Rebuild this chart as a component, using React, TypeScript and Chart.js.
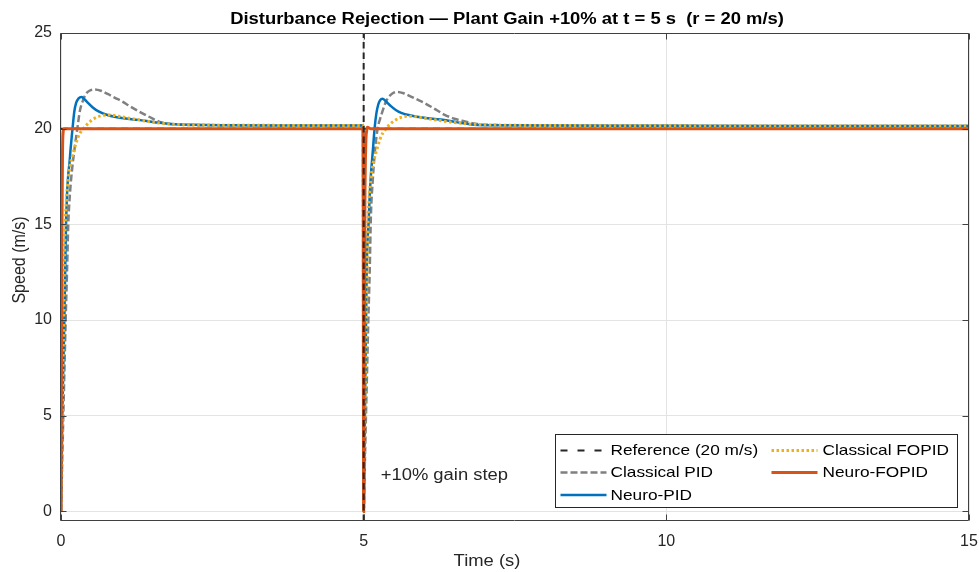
import React, { useEffect, useRef } from "react";
import { Chart, registerables } from "chart.js";
Chart.register(...registerables);

// ---------- data ----------
const xTickValues = [0, 5, 10, 15];
const yTickValues = [0, 5, 10, 15, 20, 25];

const titleText = "Disturbance Rejection \u2014 Plant Gain +10% at t = 5 s  (r = 20 m/s)";
const xLabel = "Time (s)";
const yLabel = "Speed (m/s)";
const stepNote = "+10% gain step";

const refTime = [0, 15];
const refSpeed = [20, 20];

const stepTime = [5, 5];
const stepSpeed = [-0.5, 25];

const pidTime = [
  0, 0.02, 0.038, 0.058, 0.077, 0.1, 0.12, 0.15, 0.187, 0.23, 0.27, 0.31, 0.36, 0.41, 0.47, 0.56, 0.66, 0.78, 0.9, 1.0,
  1.15, 1.33, 1.5, 1.66, 1.85, 2.0, 2.4, 3.0, 4.0, 4.99,
  5.0, 5.02, 5.038, 5.058, 5.077, 5.1, 5.12, 5.15, 5.185, 5.23, 5.27, 5.31, 5.36, 5.4, 5.48, 5.56, 5.66, 5.78, 5.9, 6.0,
  6.15, 6.33, 6.5, 6.66, 6.85, 7.0, 7.5, 8.5, 10, 12, 15,
];
const pidSpeed = [
  0, 2.6, 5, 7.6, 10, 12.6, 15, 16.7, 18, 19.1, 20, 20.9, 21.45, 21.8, 21.98, 22.05, 21.98, 21.8, 21.6, 21.44,
  21.15, 20.83, 20.55, 20.32, 20.22, 20.2, 20.18, 20.17, 20.17, 20.17,
  0, 2.6, 5, 7.6, 10, 12.6, 15.5, 17.3, 18.8, 20.0, 20.5, 20.9, 21.35, 21.6, 21.85, 21.92, 21.85, 21.68, 21.5, 21.35,
  21.08, 20.74, 20.52, 20.39, 20.26, 20.21, 20.18, 20.16, 20.15, 20.14, 20.14,
];

const npidTime = [
  0, 0.022, 0.04, 0.055, 0.07, 0.083, 0.1, 0.12, 0.14, 0.16, 0.19, 0.22, 0.25, 0.29, 0.34, 0.4, 0.45, 0.52, 0.62, 0.78,
  1.0, 1.28, 1.55, 1.83, 2.2, 2.8, 3.5, 4.99,
  5.0, 5.02, 5.04, 5.05, 5.065, 5.08, 5.1, 5.12, 5.14, 5.16, 5.18, 5.21, 5.24, 5.27, 5.31, 5.37, 5.45, 5.53, 5.62, 5.78,
  6.0, 6.27, 6.55, 6.82, 7.2, 8.0, 9.5, 12, 15,
];
const npidSpeed = [
  0, 5, 7.8, 10, 12.7, 15, 16.6, 17.6, 18.2, 19.0, 20.0, 20.9, 21.35, 21.58, 21.65, 21.5, 21.33, 21.12, 20.9, 20.7,
  20.56, 20.46, 20.34, 20.24, 20.2, 20.18, 20.17, 20.17,
  0, 5, 10, 12.6, 14.2, 15, 16.5, 17.6, 18.4, 19.2, 20.0, 20.8, 21.25, 21.48, 21.57, 21.42, 21.18, 20.98, 20.83, 20.69,
  20.57, 20.48, 20.33, 20.21, 20.18, 20.16, 20.15, 20.14, 20.14,
];

const fopidTime = [
  0, 0.02, 0.045, 0.066, 0.09, 0.12, 0.15, 0.19, 0.23, 0.27, 0.31, 0.37, 0.44, 0.51, 0.58, 0.67, 0.76, 0.85, 0.95, 1.1,
  1.27, 1.5, 1.8, 2.4, 3.0, 4.0, 4.99,
  5.0, 5.02, 5.045, 5.066, 5.09, 5.12, 5.15, 5.19, 5.23, 5.27, 5.32, 5.37, 5.44, 5.51, 5.6, 5.73, 5.85, 5.95, 6.1, 6.27,
  6.5, 6.8, 7.4, 8.5, 10, 12, 15,
];
const fopidSpeed = [
  0, 5, 10, 14.5, 16.3, 17.4, 18.1, 18.6, 19.05, 19.45, 19.75, 20.0, 20.25, 20.45, 20.58, 20.68, 20.72, 20.71, 20.65, 20.56,
  20.47, 20.35, 20.24, 20.19, 20.18, 20.17, 20.17,
  0, 5, 10, 14.5, 16.3, 17.4, 18.1, 18.6, 19.05, 19.45, 19.8, 20.0, 20.25, 20.42, 20.57, 20.65, 20.63, 20.58, 20.5, 20.42,
  20.32, 20.23, 20.18, 20.16, 20.15, 20.14, 20.14,
];

const nfopidTime = [0, 0.008, 0.016, 0.025, 0.035, 0.05, 4.99, 5.0, 5.01, 5.02, 5.035, 5.05, 5.06, 5.12, 15];
const nfopidSpeed = [0, 8, 15, 18.8, 19.8, 20, 20, 0, 9, 16, 19.2, 19.9, 20.08, 20, 20];

const seriesNames = ["Reference (20 m/s)", "Classical PID", "Neuro-PID", "Classical FOPID", "Neuro-FOPID"];
const seriesColors = ["#262626", "#808080", "#0072BD", "#EDB120", "#D95319"];

// ---------- helpers ----------
const FONT = '"Liberation Sans", Arial, Helvetica, sans-serif';
const SX = 1.15;
const pts = (t: number[], v: number[]) => t.map((x, i) => ({ x, y: v[i] }));

function stretchText(
  ctx: CanvasRenderingContext2D, s: string, x: number, y: number, font: string, color: string,
  align: CanvasTextAlign, baseline: CanvasTextBaseline, rot = 0
) {
  ctx.save();
  ctx.translate(x, y);
  ctx.scale(SX, 1);
  if (rot) ctx.rotate(rot);
  ctx.font = font;
  ctx.fillStyle = color;
  ctx.textAlign = align;
  ctx.textBaseline = baseline;
  ctx.fillText(s, 0, 0);
  ctx.restore();
}

const dashes: number[][] = [[7, 10], [7, 3], [], [2.5, 2.5], []];
const widths = [2, 2.5, 2.5, 3, 3];

const decorPlugin = {
  id: "decor",
  afterDatasetsDraw(chart: any) {
    const { ctx, chartArea } = chart;
    const { left, right, top, bottom } = chartArea;
    const xs = chart.scales.x;
    const ys = chart.scales.y;
    ctx.save();
    ctx.strokeStyle = "#404040";
    ctx.lineWidth = 1;
    const L = Math.round(left) - 0.5, R = Math.round(right) - 0.5, T = Math.round(top) + 0.5, B = Math.round(bottom) - 0.5;
    ctx.beginPath();
    ctx.moveTo(L, T); ctx.lineTo(R, T); ctx.lineTo(R, B); ctx.lineTo(L, B); ctx.closePath();
    ctx.stroke();
    const tl = 6;
    ctx.beginPath();
    xTickValues.forEach((v) => {
      const px = Math.round(xs.getPixelForValue(v)) + 0.5;
      ctx.moveTo(px, B); ctx.lineTo(px, B - tl);
      ctx.moveTo(px, T); ctx.lineTo(px, T + tl);
    });
    yTickValues.forEach((v) => {
      const py = Math.round(ys.getPixelForValue(v)) + 0.5;
      ctx.moveTo(L, py); ctx.lineTo(L + tl, py);
      ctx.moveTo(R, py); ctx.lineTo(R - tl, py);
    });
    ctx.stroke();
    ctx.restore();
  },
  afterDraw(chart: any) {
    const { ctx, chartArea } = chart;
    const { right, bottom } = chartArea;
    const xs = chart.scales.x;
    const ys = chart.scales.y;
    stretchText(ctx, titleText, 507, 24, `bold 16px ${FONT}`, "#000", "center", "alphabetic");
    stretchText(ctx, xLabel, 487, 562, `16px ${FONT}`, "#262626", "center", "middle");
    stretchText(ctx, yLabel, 20, 260, `16px ${FONT}`, "#262626", "center", "middle", -Math.PI / 2);
    stretchText(ctx, stepNote, xs.getPixelForValue(5) + 17, ys.getPixelForValue(1.85), `16px ${FONT}`, "#262626", "left", "middle");
    const bx = right - 413.5, by = bottom - 86.5, bw = 402, bh = 73;
    ctx.save();
    ctx.fillStyle = "#fff";
    ctx.fillRect(bx, by, bw, bh);
    ctx.strokeStyle = "#262626";
    ctx.lineWidth = 1;
    ctx.strokeRect(bx, by, bw, bh);
    const rows = [16, 38, 60.5];
    const cols = [{ l0: 5, l1: 51, tx: 55 }, { l0: 216, l1: 262, tx: 267 }];
    seriesNames.forEach((name, i) => {
      const c = i < 3 ? cols[0] : cols[1];
      const r = i < 3 ? rows[i] : rows[i - 3];
      const yy = by + r;
      ctx.save();
      ctx.strokeStyle = seriesColors[i];
      ctx.lineWidth = widths[i];
      ctx.setLineDash(dashes[i]);
      ctx.beginPath();
      ctx.moveTo(bx + c.l0, yy);
      ctx.lineTo(bx + c.l1, yy);
      ctx.stroke();
      ctx.restore();
      stretchText(ctx, name, bx + c.tx, yy + 0.5, `15px ${FONT}`, "#000", "left", "middle");
    });
    ctx.restore();
  },
};

export default function App() {
  const canvasRef = useRef<HTMLCanvasElement>(null);
  useEffect(() => {
    document.body.style.margin = "0";
    const canvas = canvasRef.current!;
    const line = (label: string, t: number[], v: number[], color: string, width: number, dash: number[], order: number, smooth = true) => ({
      label,
      data: pts(t, v),
      borderColor: color,
      backgroundColor: color,
      borderWidth: width,
      borderDash: dash,
      pointRadius: 0,
      fill: false,
      order,
      cubicInterpolationMode: smooth ? "monotone" : "default",
      tension: 0,
    });
    const chart = new Chart(canvas, {
      type: "line",
      data: {
        datasets: [
          line("step", stepTime, stepSpeed, "#262626", 2, [6.5, 4], 0, false),
          line(seriesNames[4], nfopidTime, nfopidSpeed, seriesColors[4], widths[4], [], 1),
          line(seriesNames[3], fopidTime, fopidSpeed, seriesColors[3], widths[3], [2.5, 2.5], 2),
          line(seriesNames[2], npidTime, npidSpeed, seriesColors[2], widths[2], [], 3),
          line(seriesNames[1], pidTime, pidSpeed, seriesColors[1], widths[1], [7, 3], 4),
          line(seriesNames[0], refTime, refSpeed, seriesColors[0], widths[0], [7, 5], 5, false),
        ] as any,
      },
      options: {
        responsive: false,
        animation: false,
        devicePixelRatio: 1,
        layout: { padding: { top: 33, right: 10, left: 0, bottom: 0 } },
        plugins: { legend: { display: false }, title: { display: false }, tooltip: { enabled: false } },
        scales: {
          x: {
            type: "linear",
            min: 0,
            max: 15,
            afterBuildTicks: (s: any) => { s.ticks = xTickValues.map((value) => ({ value })); },
            afterFit: (s: any) => { s.height = 51; s.paddingLeft = 0; s.paddingRight = 0; },
            grid: { color: "#e3e3e3", lineWidth: 1, drawTicks: false },
            border: { display: false },
            ticks: { padding: 11, maxRotation: 0, font: { family: FONT, size: 16 }, color: "#262626" },
          },
          y: {
            type: "linear",
            min: -0.5,
            max: 25,
            afterBuildTicks: (s: any) => { s.ticks = yTickValues.map((value) => ({ value })); },
            afterFit: (s: any) => { s.width = 61; s.paddingTop = 0; s.paddingBottom = 0; },
            grid: { color: "#e3e3e3", lineWidth: 1, drawTicks: false },
            border: { display: false },
            ticks: { padding: 9, font: { family: FONT, size: 16 }, color: "#262626" },
          },
        },
      } as any,
      plugins: [decorPlugin],
    });
    return () => chart.destroy();
  }, []);
  return (
    <div style={{ width: 979, height: 572, position: "relative" }}>
      <canvas ref={canvasRef} width={979} height={572} style={{ display: "block", width: 979, height: 572 }} />
    </div>
  );
}
